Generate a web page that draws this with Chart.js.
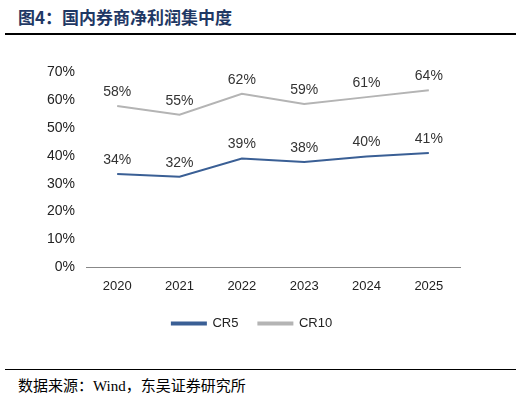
<!DOCTYPE html><html><head><meta charset="utf-8"><script src="https://cdn.jsdelivr.net/npm/chart.js@4/dist/chart.umd.min.js"></script>
<style>body{margin:0;width:522px;height:402px;background:#fff;position:relative;font-family:"Noto Sans CJK SC";}
#t{position:absolute;left:18px;top:4px;font-size:17px;font-weight:bold;color:#1f3864;}
#l1{position:absolute;left:5px;right:6px;top:33px;border-top:2px solid #000;}
#l2{position:absolute;left:5px;right:6px;top:369px;border-top:1px solid #000;}
#s{position:absolute;left:18px;top:374px;font-size:15px;color:#000;font-family:"Noto Sans CJK SC";}
#c{position:absolute;left:0;top:50px;width:522px;height:290px;}</style></head><body>
<div id="t">图4：国内券商净利润集中度</div><div id="l1"></div>
<div id="c"><canvas id="cv"></canvas></div><div id="l2"></div>
<div id="s">数据来源：<span style="font-family:'Liberation Serif'">Wind</span>，东吴证券研究所</div>
<script>
const years=["2020","2021","2022","2023","2024","2025"];
const cr5=[33.5,32.5,39,37.8,39.7,41];
const cr10=[57.8,54.7,62.2,58.5,61,63.5];
const cr5Labels=["34%","32%","39%","38%","40%","41%"];
const cr10Labels=["58%","55%","62%","59%","61%","64%"];
const lbl={id:'lbl',afterDatasetsDraw(ch){const c=ch.ctx;c.save();c.font='14px "Liberation Sans"';c.fillStyle='#333';c.textAlign='center';
[cr5Labels,cr10Labels].forEach((L,i)=>{ch.getDatasetMeta(i).data.forEach((p,j)=>{c.fillText(L[j],p.x,p.y-14);});});c.restore();}};
Chart.defaults.font.family='"Liberation Sans"';Chart.defaults.font.size=14;Chart.defaults.color='#222';
new Chart(document.getElementById('cv'),{type:'line',data:{labels:years,datasets:[
{label:'CR5',data:cr5,borderColor:'#3a5f95',borderWidth:2,pointRadius:0,tension:0},
{label:'CR10',data:cr10,borderColor:'#b4b4b4',borderWidth:2,pointRadius:0,tension:0}]},
options:{animation:false,responsive:true,maintainAspectRatio:false,layout:{padding:{left:44,right:62,top:22}},
plugins:{legend:{position:'bottom',labels:{boxWidth:34,boxHeight:2,padding:20,font:{size:13}}},tooltip:{enabled:false}},
scales:{x:{offset:true,grid:{display:false},border:{color:'#888'},ticks:{font:{size:13}}},
y:{min:0,max:70,ticks:{stepSize:10,callback:v=>v+'%'},grid:{display:false},border:{display:false}}}},plugins:[lbl]});
</script></body></html>
